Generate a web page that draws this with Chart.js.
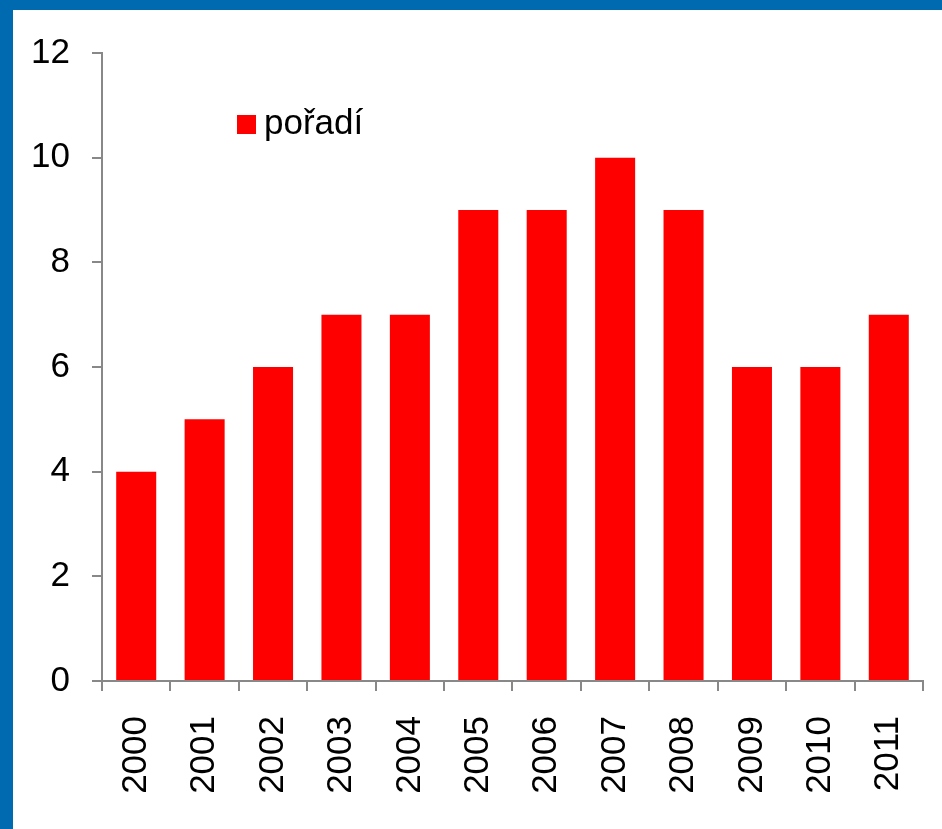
<!DOCTYPE html>
<html>
<head>
<meta charset="utf-8">
<script src="https://cdn.jsdelivr.net/npm/chart.js@4/dist/chart.umd.min.js"></script>
<style>
  html, body { margin: 0; padding: 0; }
  body { width: 942px; height: 829px; background: #006AB0; position: relative; overflow: hidden; }
  #panel { position: absolute; left: 13px; top: 10px; width: 929px; height: 819px; background: #fff; }
  #legend { position: absolute; left: 224px; top: 92px; font: 35px "Liberation Sans", Arial, sans-serif; color: #000; display: flex; align-items: center; }
  #legend .box { width: 19px; height: 19px; background: #FF0000; margin-right: 8px; margin-top: 4px; }
</style>
</head>
<body>
<div id="panel">
  <canvas id="chart" width="929" height="819"></canvas>
  <div id="legend"><span class="box"></span><span>pořadí</span></div>
</div>
<script>
const years = ['2000', '2001', '2002', '2003', '2004', '2005', '2006', '2007', '2008', '2009', '2010', '2011'];
const poradi = [4, 5, 6, 7, 7, 9, 9, 10, 9, 6, 6, 7];
const yTicks = [0, 2, 4, 6, 8, 10, 12];

const fontFamily = '"Liberation Sans", Arial, sans-serif';
const axisGray = '#888888';

const ctx = document.getElementById('chart').getContext('2d');
new Chart(ctx, {
  type: 'bar',
  data: {
    labels: years,
    datasets: [{
      label: 'pořadí',
      data: poradi,
      backgroundColor: '#FF0000',
      borderWidth: 0,
      barPercentage: 0.585,
      categoryPercentage: 1
    }]
  },
  options: {
    responsive: false,
    animation: false,
    layout: { padding: { left: 0, right: 19, top: 43, bottom: 0 } },
    plugins: {
      legend: { display: false },
      tooltip: { enabled: false }
    },
    scales: {
      x: {
        offset: true,
        afterFit: axis => {
          axis.height = 148;
          axis.paddingLeft = 0;
          axis.paddingRight = 0;
        },
        grid: { display: true, drawOnChartArea: false, drawTicks: true, tickLength: 10, color: axisGray, lineWidth: 2, offset: true },
        border: { color: axisGray, width: 2 },
        ticks: { color: '#000', font: { family: fontFamily, size: 35 }, minRotation: 90, maxRotation: 90, padding: 25 }
      },
      y: {
        min: 0,
        max: 12,
        afterFit: axis => { axis.width = 89; },
        afterBuildTicks: axis => { axis.ticks = yTicks.map(v => ({ value: v })); },
        grid: { display: true, drawOnChartArea: false, drawTicks: true, tickLength: 10, color: axisGray, lineWidth: 2 },
        border: { color: axisGray, width: 2 },
        ticks: { color: '#000', font: { family: fontFamily, size: 35 }, padding: 22 }
      }
    }
  }
});
</script>
</body>
</html>
